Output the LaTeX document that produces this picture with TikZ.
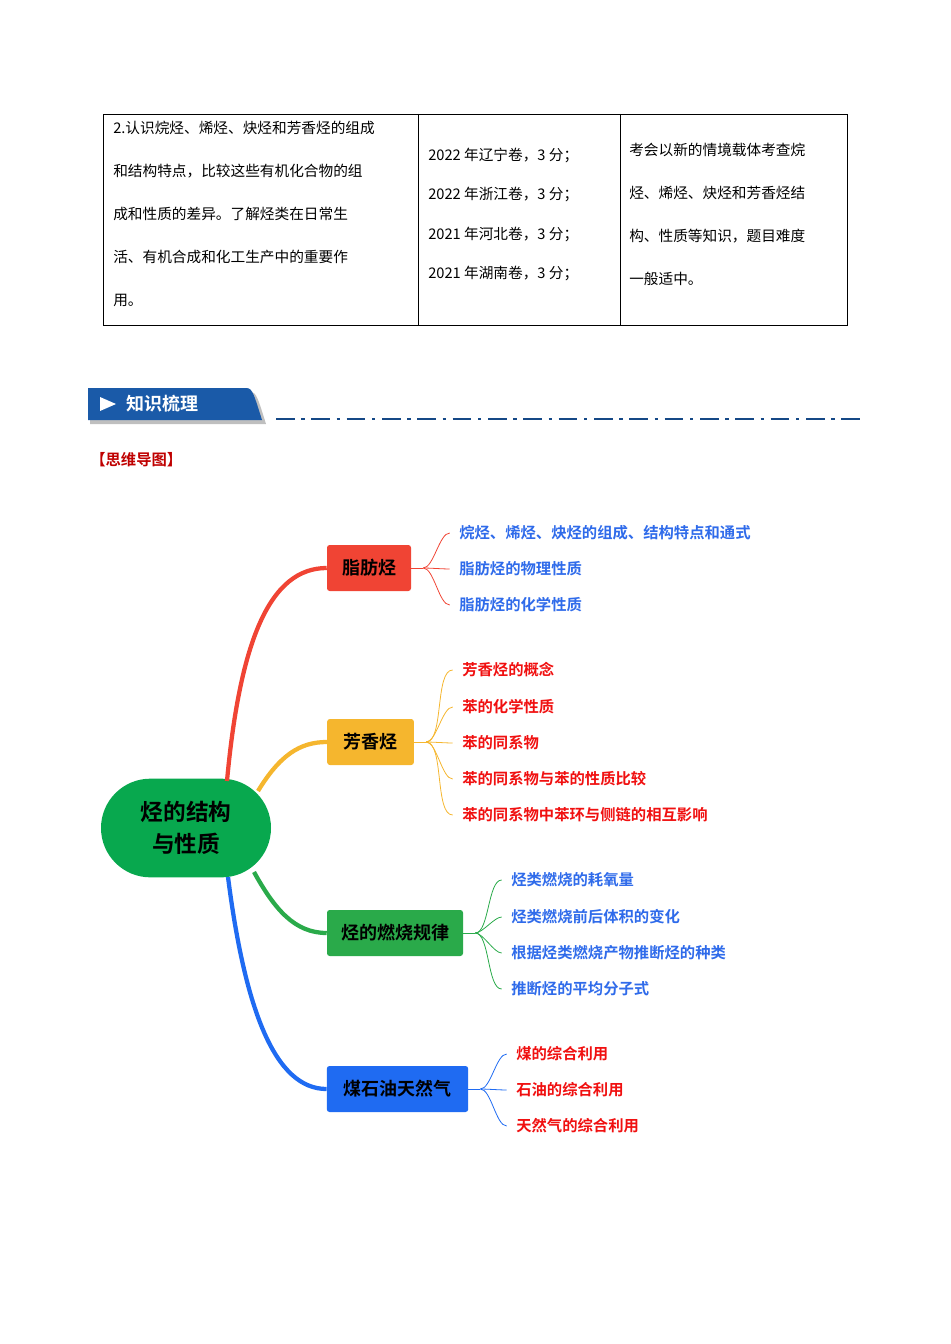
\documentclass[tikz,border=0pt]{standalone}
\usepackage{fontspec}
\setmainfont{Noto Sans CJK SC}
\newfontfamily\boldcjk{Noto Sans CJK SC Bold}
\usetikzlibrary{positioning,calc}
\definecolor{mapred}{HTML}{F04434}
\definecolor{maporange}{HTML}{F5B62E}
\definecolor{mapgreen}{HTML}{2AAA4A}
\definecolor{mapblue}{HTML}{1F6BF2}
\definecolor{rootgreen}{HTML}{08A84E}
\definecolor{leafblue}{HTML}{2F6BEA}
\definecolor{leafred}{HTML}{F01010}
\definecolor{bannerblue}{HTML}{1A5AA8}
\begin{document}
\begin{tikzpicture}[x=0.75pt,y=-0.75pt,font=\fontsize{11}{13}\selectfont]
  \tikzstyle{cell text}=[anchor=west,inner sep=0]
  \tikzstyle{branch node}=[rectangle,rounded corners=2pt,minimum height=34.5pt,inner sep=0,font=\boldcjk\fontsize{13.5}{15}\selectfont]
  \tikzstyle{leaf}=[anchor=west,inner sep=0,font=\boldcjk\fontsize{11.5}{13}\selectfont]
  \tikzstyle{trunk}=[line width=3.2pt]
  \useasboundingbox (0,0) rectangle (950,1344);

  % table
  \draw[line width=0.6pt] (103,114) rectangle (847,325);
  \draw[line width=0.6pt] (418,114) -- (418,325) (620,114) -- (620,325);
  \node[cell text] (a1) at (113,128) {2.认识烷烃、烯烃、炔烃和芳香烃的组成};
  \node[cell text] (a2) at (113,171) {和结构特点，比较这些有机化合物的组};
  \node[cell text] (a3) at (113,214) {成和性质的差异。了解烃类在日常生};
  \node[cell text] (a4) at (113,257) {活、有机合成和化工生产中的重要作};
  \node[cell text] (a5) at (113,300) {用。};
  \node[cell text] (b1) at (428,155) {2022 年辽宁卷，3 分；};
  \node[cell text] (b2) at (428,194) {2022 年浙江卷，3 分；};
  \node[cell text] (b3) at (428,234) {2021 年河北卷，3 分；};
  \node[cell text] (b4) at (428,273) {2021 年湖南卷，3 分；};
  \node[cell text] (c1) at (629,150) {考会以新的情境载体考查烷};
  \node[cell text] (c2) at (629,193) {烃、烯烃、炔烃和芳香烃结};
  \node[cell text] (c3) at (629,236) {构、性质等知识，题目难度};
  \node[cell text] (c4) at (629,279) {一般适中。};

  % banner
  \fill[black!25] (90,392) -- (248,392) .. controls (256,392) .. (266,424) -- (90,424) -- cycle;
  \fill[bannerblue] (88,388) -- (244,388) .. controls (252,388) .. (262,420) -- (88,420) -- cycle;
  \fill[white] (100,397) -- (116,404) -- (100,411) -- cycle;
  \node[anchor=west,inner sep=0,text=white,font=\boldcjk\fontsize{13.5}{15}\selectfont] (banner) at (126,404) {知识梳理};
  \draw[bannerblue!80!black,line width=2.2pt,dash pattern=on 14pt off 5pt on 2.5pt off 5pt] (276,419) -- (860,419);
  \node[anchor=west,inner sep=0,text=red!75!black,font=\boldcjk\fontsize{11.5}{13}\selectfont] (title) at (90,460) {【思维导图】};

  % mind map
  \node[fill=rootgreen,rounded corners=37pt,minimum width=127.5pt,minimum height=74pt,inner sep=0,align=center,
        font=\boldcjk\fontsize{17}{24}\selectfont] (root) at (186,828) {烃的结构\\与性质};
  \node[branch node,fill=mapred,minimum width=63pt] (fat) at (369,568) {脂肪烃};
  \node[branch node,fill=maporange,minimum width=65pt] (aro) at (370.5,742) {芳香烃};
  \node[branch node,fill=mapgreen,minimum width=102pt] (burn) at (395,933) {烃的燃烧规律};
  \node[branch node,fill=mapblue,minimum width=106pt] (coal) at (397.5,1089) {煤石油天然气};

  \draw[trunk,mapred] (227,781) .. controls (240,640) and (270,568) .. (fat.west);
  \draw[trunk,maporange] (258,791) .. controls (280,755) and (300,742) .. (aro.west);
  \draw[trunk,mapgreen] (254,872) .. controls (275,910) and (295,933) .. (burn.west);
  \draw[trunk,mapblue] (228,877) .. controls (245,1010) and (275,1089) .. (coal.west);

  % leaves
  \coordinate[right=9pt of fat.east] (fatfork);
  \draw[mapred,line width=0.6pt] (fat.east) -- (fatfork);
  \foreach \y/\t [count=\i] in {533/烷烃、烯烃、炔烃的组成、结构特点和通式,569/脂肪烃的物理性质,605/脂肪烃的化学性质}{
    \node[leaf,text=leafblue] (fat\i) at (459,\y) {\t};
    \draw[mapred,line width=0.6pt] (fatfork) to[out=0,in=180,looseness=0.6] ([xshift=-7pt]fat\i.west);
  }
  \coordinate[right=9pt of aro.east] (arofork);
  \draw[maporange,line width=0.6pt] (aro.east) -- (arofork);
  \foreach \y/\t [count=\i] in {670/芳香烃的概念,707/苯的化学性质,743/苯的同系物,779/苯的同系物与苯的性质比较,815/苯的同系物中苯环与侧链的相互影响}{
    \node[leaf,text=leafred] (aro\i) at (462,\y) {\t};
    \draw[maporange,line width=0.6pt] (arofork) to[out=0,in=180,looseness=0.6] ([xshift=-7pt]aro\i.west);
  }
  \coordinate[right=9pt of burn.east] (burnfork);
  \draw[mapgreen,line width=0.6pt] (burn.east) -- (burnfork);
  \foreach \y/\t [count=\i] in {880/烃类燃烧的耗氧量,917/烃类燃烧前后体积的变化,953/根据烃类燃烧产物推断烃的种类,989/推断烃的平均分子式}{
    \node[leaf,text=leafblue] (burn\i) at (511,\y) {\t};
    \draw[mapgreen,line width=0.6pt] (burnfork) to[out=0,in=180,looseness=0.6] ([xshift=-7pt]burn\i.west);
  }
  \coordinate[right=9pt of coal.east] (coalfork);
  \draw[mapblue,line width=0.6pt] (coal.east) -- (coalfork);
  \foreach \y/\t [count=\i] in {1054/煤的综合利用,1090/石油的综合利用,1126/天然气的综合利用}{
    \node[leaf,text=leafred] (coal\i) at (516,\y) {\t};
    \draw[mapblue,line width=0.6pt] (coalfork) to[out=0,in=180,looseness=0.6] ([xshift=-7pt]coal\i.west);
  }
\end{tikzpicture}
\end{document}
